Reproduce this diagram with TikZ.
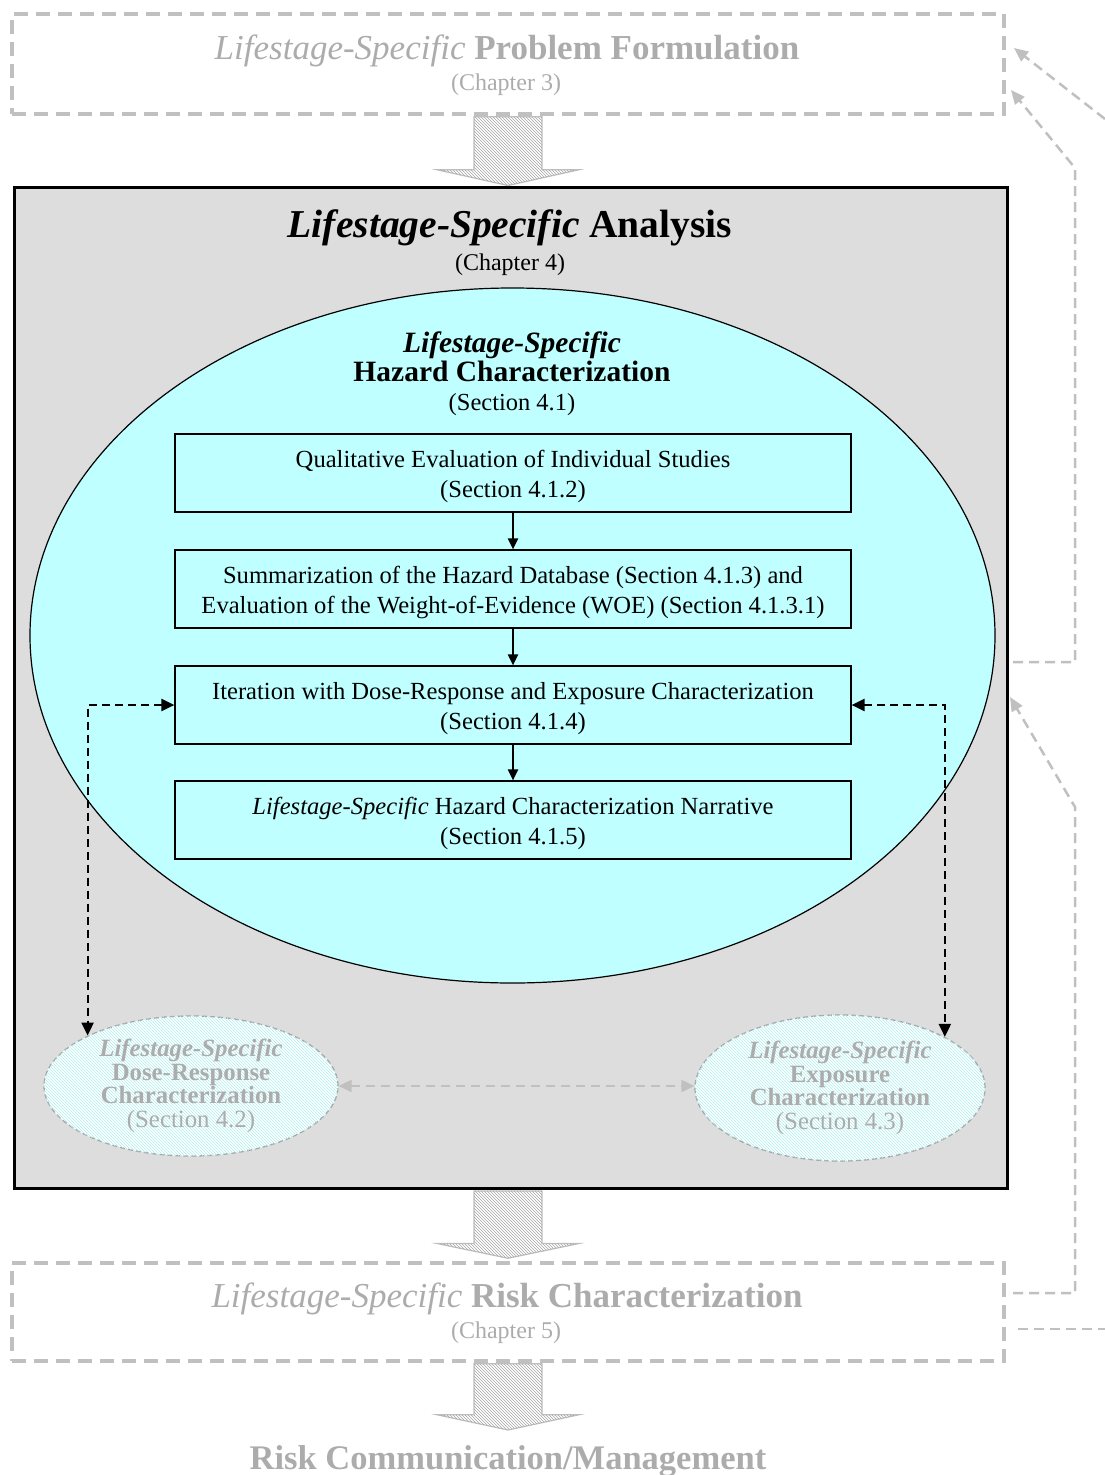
\documentclass[tikz,border=0pt]{standalone}
\usepackage{fontspec}
\setmainfont{Liberation Serif}
\usetikzlibrary{arrows.meta,shapes.geometric,patterns,calc}
\definecolor{lgray}{RGB}{192,192,192}
\definecolor{tgray}{RGB}{172,172,172}
\definecolor{anfill}{RGB}{221,221,221}
\definecolor{hzfill}{RGB}{191,255,255}
\definecolor{hatchc}{RGB}{175,238,238}
\definecolor{arrhatch}{RGB}{165,165,165}
\definecolor{ellgray}{RGB}{165,165,165}
\newcommand\fsz[2]{\fontsize{#1}{#2}\selectfont}
\begin{document}
\begin{tikzpicture}[x=1pt,y=-1pt,
  graybox/.style={draw=lgray, line width=3.5pt, dash pattern=on 14pt off 8pt,
    minimum width=992pt, minimum height=100pt, inner sep=0pt},
  grayline/.style={draw=lgray, line width=2.5pt, dash pattern=on 10pt off 6pt},
  graytip/.style={-{Triangle[length=14pt,width=12pt]}},
  stepbox/.style={draw, line width=1.2pt, fill=hzfill, minimum width=676pt,
    minimum height=78pt, inner sep=0pt, align=center, font=\fsz{24.6}{30},
    text height=53pt, text depth=5pt},
  flow/.style={-{Triangle[length=11pt,width=10pt]}, line width=2pt},
  darrow/.style={{Triangle[length=13pt,width=12pt]}-{Triangle[length=13pt,width=12pt]},
    line width=2.2pt, dash pattern=on 8pt off 5pt},
  subell/.style={ellipse, draw=ellgray, line width=1.3pt, dash pattern=on 5pt off 3pt,
    fill=white, postaction={pattern=north west lines, pattern color=hatchc},
    inner sep=0pt, align=center, font=\fsz{24.8}{23.5}, text=tgray},
  bigarrow/.style={draw=lgray, line width=1.2pt, fill=white,
    postaction={pattern=north west lines, pattern color=arrhatch}},
  graytext/.style={text=tgray, inner sep=0pt}
]
\useasboundingbox (0,0) rectangle (1105,1475);

% top box
\node[graybox] (pf) at (508,64) {};
\node[graytext, font=\fsz{35}{40}] (pft) at (507,51) {\textit{Lifestage-Specific} \textbf{Problem Formulation}};
\node[graytext, font=\fsz{24}{28}] (pfc) at (506,85) {(Chapter 3)};

% analysis box
\node[draw, line width=3pt, fill=anfill, minimum width=993pt, minimum height=1001pt, inner sep=0pt] (an) at (510.5,687.5) {};
\node[inner sep=0pt, font=\fsz{39.5}{40}] (ant) at (510,228) {\textbf{\textit{Lifestage-Specific}} \textbf{Analysis}};
\node[inner sep=0pt, font=\fsz{24}{28}] (anc) at (510,265) {(Chapter 4)};

% arrow 1
\draw[bigarrow] ($(pf.south)+(-34,1)$) -- ($(pf.south)+(34,1)$) -- ($(pf.south)+(34,54)$)
  -- ($(pf.south)+(71,54)$) -- (an.north -| pf.south) -- ($(pf.south)+(-71,54)$)
  -- ($(pf.south)+(-34,54)$) -- cycle;

% hazard ellipse
\node[ellipse, draw, line width=1.2pt, fill=hzfill, minimum width=965pt, minimum height=695pt, inner sep=0pt] (hz) at (512.5,635.5) {};
\node[align=center, inner sep=0pt, font=\fsz{29.5}{29}] (hzt) at (512,374)
  {{\bfseries\itshape Lifestage-Specific}\\{\bfseries Hazard Characterization}\\{\fsz{24.5}{27}(Section 4.1)}};

\node[stepbox] (b1) at (513,473) {Qualitative Evaluation of Individual Studies\\(Section 4.1.2)};
\node[stepbox] (b2) at (513,589) {Summarization of the Hazard Database (Section 4.1.3) and\\Evaluation of the Weight-of-Evidence (WOE) (Section 4.1.3.1)};
\node[stepbox] (b3) at (513,705) {Iteration with Dose-Response and Exposure Characterization\\(Section 4.1.4)};
\node[stepbox] (b4) at (513,820) {\textit{Lifestage-Specific} Hazard Characterization Narrative\\(Section 4.1.5)};

\draw[flow] (b1) -- (b2);
\draw[flow] (b2) -- (b3);
\draw[flow] (b3) -- (b4);

% sub ellipses
\node[subell, minimum width=294pt, minimum height=140pt] (dr) at (191,1086)
  {{\bfseries\itshape Lifestage-Specific}\\{\bfseries Dose-Response}\\{\bfseries Characterization}\\(Section 4.2)};
\node[subell, minimum width=290pt, minimum height=146pt] (ex) at (840,1088)
  {{\bfseries\itshape Lifestage-Specific}\\{\bfseries Exposure}\\{\bfseries Characterization}\\(Section 4.3)};

\draw[darrow] (b3.west) -| (dr.154.5);
\draw[darrow] (b3.east) -| (ex.26.2);
\draw[draw=lgray, line width=2pt, dash pattern=on 9pt off 6pt,
  {Triangle[length=13pt,width=12pt]}-{Triangle[length=13pt,width=12pt]}]
  (dr.east) -- (dr.east -| ex.west);

% risk characterization
\node[graybox, minimum height=98pt] (rc) at (508,1312) {};
\node[graytext, font=\fsz{35}{40}] (rct) at (507,1299) {\textit{Lifestage-Specific} \textbf{Risk Characterization}};
\node[graytext, font=\fsz{24}{28}] (rcc) at (506,1333) {(Chapter 5)};

% arrow 2
\draw[bigarrow] ($(an.south -| pf.south)+(-34,1.5)$) -- ($(an.south -| pf.south)+(34,1.5)$) -- ($(an.south -| pf.south)+(34,54)$)
  -- ($(an.south -| pf.south)+(71,54)$) -- ($(rc.north)+(0,-3)$) -- ($(an.south -| pf.south)+(-71,54)$)
  -- ($(an.south -| pf.south)+(-34,54)$) -- cycle;

% risk communication
\node[graytext, font=\fsz{34.5}{38}\bfseries] (rcm) at (508,1461) {Risk Communication/Management};
\coordinate (rcmtop) at (508,1430);
\draw[bigarrow] ($(rc.south)+(-34,1)$) -- ($(rc.south)+(34,1)$) -- ($(rc.south)+(34,52)$)
  -- ($(rc.south)+(71,52)$) -- (rcmtop) -- ($(rc.south)+(-71,52)$)
  -- ($(rc.south)+(-34,52)$) -- cycle;

% right side loops
\coordinate (la1) at (1105,119);
\coordinate (la2) at (1014,48);
\draw[grayline, graytip] (la1) -- (la2);

\coordinate (lb1) at (1013,662);
\coordinate (lb2) at (1075,662);
\coordinate (lb3) at (1075,168);
\coordinate (lb4) at (1011,90);
\draw[grayline, graytip] (lb1) -- (lb2) -- (lb3) -- (lb4);

\coordinate (lc1) at (1013,1293);
\coordinate (lc2) at (1075,1293);
\coordinate (lc3) at (1075,807);
\coordinate (lc4) at (1010,697);
\draw[grayline, graytip] (lc1) -- (lc2) -- (lc3) -- (lc4);

\coordinate (ld1) at (1018,1329);
\coordinate (ld2) at (1105,1329);
\draw[grayline] (ld1) -- (ld2);
\end{tikzpicture}
\end{document}
